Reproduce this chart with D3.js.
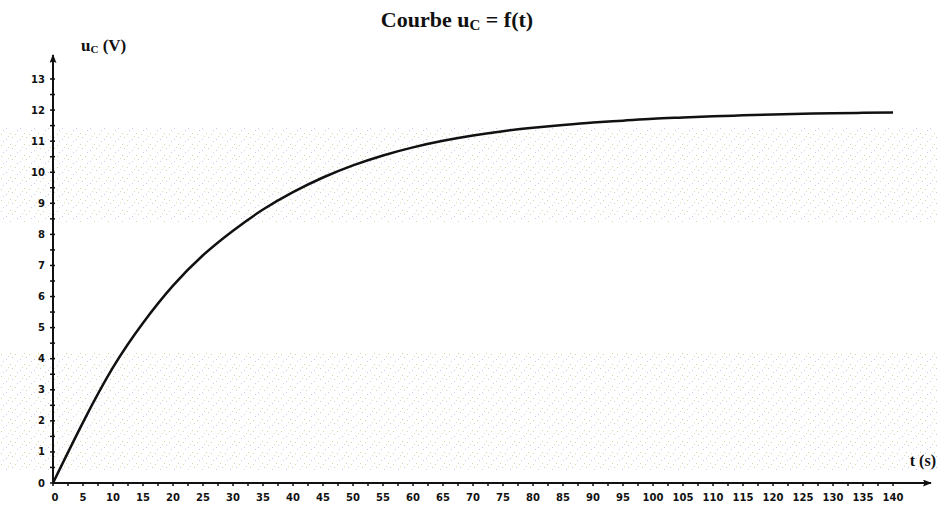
<!DOCTYPE html>
<html>
<head>
<meta charset="utf-8">
<script src="https://cdn.jsdelivr.net/npm/d3@7"></script>
<style>
  body { margin: 0; background: #fff; }
  svg { display: block; }
</style>
</head>
<body>
<svg width="939" height="507"></svg>
<script>
var svg = d3.select("svg"),
  width = +svg.attr("width"),
  height = +svg.attr("height");

// values
var times = [0, 5, 10, 15, 20, 25, 30, 35, 40, 45, 50, 55, 60, 65, 70,
  75, 80, 85, 90, 95, 100, 105, 110, 115, 120, 125, 130, 135, 140];
var uc = [0, 1.95, 3.72, 5.15, 6.35, 7.33, 8.12, 8.8, 9.36, 9.83, 10.22, 10.54,
  10.8, 11.01, 11.18, 11.32, 11.43, 11.52, 11.6, 11.66, 11.72, 11.76,
  11.8, 11.83, 11.86, 11.88, 11.9, 11.91, 11.92];
var xTickLabels = d3.range(0, 145, 5);
var yTickLabels = d3.range(0, 14, 1);

var points = times.map(function (t, i) {
  return { t: t, u: uc[i] };
});

const x = d3.scaleLinear().domain([0, 140]).range([53, 893]);
const y = d3.scaleLinear().domain([0, 13]).range([483, 79]);

var defs = svg.append("defs");
defs.append("marker")
  .attr("id", "arr")
  .attr("viewBox", "0 0 10 10")
  .attr("refX", 9).attr("refY", 5)
  .attr("markerWidth", 9).attr("markerHeight", 7)
  .attr("markerUnits", "userSpaceOnUse")
  .attr("orient", "auto")
  .attr("preserveAspectRatio", "none")
  .append("path")
  .attr("d", "M0,0 L10,5 L0,10 L2,5 Z")
  .attr("fill", "#111");

// faint scanner speckle, a fixed dot pattern
var speck = defs.append("pattern")
  .attr("id", "speck")
  .attr("width", 14).attr("height", 11)
  .attr("patternUnits", "userSpaceOnUse");
var dots = [[1, 2, "#d8d6a8"], [6, 7, "#c9cdef"], [10, 1, "#d8d6a8"],
  [3, 9, "#c9cdef"], [12, 5, "#cfcfc0"], [8, 4, "#e0ddb8"]];
speck.selectAll("rect")
  .data(dots)
  .enter().append("rect")
  .attr("x", function (d) { return d[0]; })
  .attr("y", function (d) { return d[1]; })
  .attr("width", 1).attr("height", 1)
  .attr("fill", function (d) { return d[2]; });
svg.append("rect")
  .attr("x", 0).attr("y", 127).attr("width", width).attr("height", 95)
  .attr("fill", "url(#speck)");
svg.append("rect")
  .attr("x", 0).attr("y", 352).attr("width", width).attr("height", 118)
  .attr("fill", "url(#speck)");

var serif = "'Liberation Serif', 'Times New Roman', serif";

// title
svg.append("text")
  .attr("x", 457).attr("y", 27)
  .attr("text-anchor", "middle")
  .attr("font-family", serif)
  .attr("font-weight", "bold")
  .attr("font-size", 22)
  .attr("fill", "#111")
  .call(function (t) {
    t.append("tspan").text("Courbe u");
    t.append("tspan").attr("font-size", 15).attr("dy", 3).text("C");
    t.append("tspan").attr("dy", -3).text(" = f(t)");
  });

// axis lines with arrows
svg.append("line")
  .attr("x1", x(0)).attr("y1", y(0))
  .attr("x2", x(0)).attr("y2", 55)
  .attr("stroke", "#111").attr("stroke-width", 2)
  .attr("marker-end", "url(#arr)");
svg.append("line")
  .attr("x1", x(0)).attr("y1", y(0))
  .attr("x2", 931).attr("y2", y(0))
  .attr("stroke", "#111").attr("stroke-width", 2)
  .attr("marker-end", "url(#arr)");

// minor ticks
svg.append("g")
  .selectAll("line")
  .data(d3.range(0, 141, 2.5))
  .enter().append("line")
  .attr("x1", function (d) { return x(d); })
  .attr("x2", function (d) { return x(d); })
  .attr("y1", y(0)).attr("y2", y(0) + 3)
  .attr("stroke", "#111").attr("stroke-width", 1.5);
svg.append("g")
  .selectAll("line")
  .data(d3.range(0, 13.01, 0.5))
  .enter().append("line")
  .attr("x1", x(0) - 3).attr("x2", x(0) + 2)
  .attr("y1", function (d) { return y(d); })
  .attr("y2", function (d) { return y(d); })
  .attr("stroke", "#111").attr("stroke-width", 1.5);

// tick labels
var tickFont = "'DejaVu Sans', Verdana, sans-serif";
svg.append("g")
  .selectAll("text")
  .data(xTickLabels)
  .enter().append("text")
  .attr("x", function (d) { return x(d) + (d == 0 ? 2 : 0); })
  .attr("y", 501)
  .attr("text-anchor", "middle")
  .attr("font-family", tickFont)
  .attr("font-weight", "bold")
  .attr("font-size", 10)
  .attr("fill", "#111")
  .text(function (d) { return d; });
svg.append("g")
  .selectAll("text")
  .data(yTickLabels)
  .enter().append("text")
  .attr("x", 45)
  .attr("y", function (d) { return y(d) + 3.5; })
  .attr("text-anchor", "end")
  .attr("font-family", tickFont)
  .attr("font-weight", "bold")
  .attr("font-size", 10)
  .attr("fill", "#111")
  .text(function (d) { return d; });

// axis titles
svg.append("text")
  .attr("x", 81).attr("y", 51)
  .attr("font-family", serif)
  .attr("font-weight", "bold")
  .attr("font-size", 17)
  .attr("fill", "#111")
  .call(function (t) {
    t.append("tspan").text("u");
    t.append("tspan").attr("font-size", 11).attr("dy", 2).text("C");
    t.append("tspan").attr("dy", -2).text(" (V)");
  });
svg.append("text")
  .attr("x", 936).attr("y", 466)
  .attr("text-anchor", "end")
  .attr("font-family", serif)
  .attr("font-weight", "bold")
  .attr("font-size", 16)
  .attr("fill", "#111")
  .text("t (s)");

// curve
var line = d3.line()
  .x(function (d) { return x(d.t); })
  .y(function (d) { return y(d.u); })
  .curve(d3.curveNatural);
svg.append("path")
  .datum(points)
  .attr("d", line)
  .attr("fill", "none")
  .attr("stroke", "#111")
  .attr("stroke-width", 2.5);
</script>
</body>
</html>
